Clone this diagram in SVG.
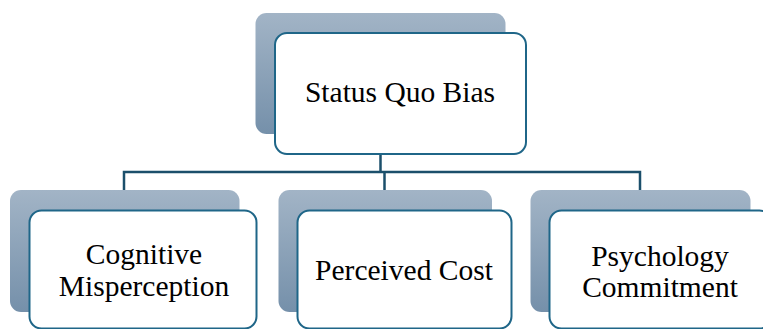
<svg xmlns="http://www.w3.org/2000/svg" width="763" height="329" viewBox="0 0 763 329">
  <defs>
    <linearGradient id="backFill" x1="0" y1="0" x2="0" y2="1">
      <stop offset="0" stop-color="#A2B4C6"/>
      <stop offset="1" stop-color="#7590AA"/>
    </linearGradient>
    <style>
      .back { fill: url(#backFill); stroke: none; }
      .front { fill: #FFFFFF; stroke: #1F6688; stroke-width: 2; }
      .label { font-family: "Liberation Serif", "Times New Roman", serif; font-size: 29.5px; fill: #000000; text-anchor: middle; }
      .link { fill: none; stroke: #1B4F6B; stroke-width: 2.5; }
    </style>
  </defs>
  <rect width="763" height="329" fill="#FFFFFF"/>

  <g id="connectors">
    <path class="link" d="M380.5 155 V172"/>
    <path class="link" d="M124 190 V172 H640 V190"/>
    <path class="link" d="M384.5 172 V190"/>
  </g>

  <g id="status-quo-bias">
    <rect class="back" x="255.5" y="13" width="250" height="121" rx="11"/>
    <rect class="front" x="275" y="33" width="251" height="121" rx="12"/>
    <text class="label" x="400" y="102">Status Quo Bias</text>
  </g>

  <g id="cognitive-misperception">
    <rect class="back" x="10" y="190" width="229.5" height="122" rx="11"/>
    <rect class="front" x="29.5" y="210.5" width="227" height="118" rx="12"/>
    <text class="label" x="144" y="264">Cognitive</text>
    <text class="label" x="144" y="296">Misperception</text>
  </g>

  <g id="perceived-cost">
    <rect class="back" x="278.5" y="190" width="213.5" height="122" rx="11"/>
    <rect class="front" x="297.5" y="210.5" width="214" height="118" rx="12"/>
    <text class="label" x="404" y="280">Perceived Cost</text>
  </g>

  <g id="psychology-commitment">
    <rect class="back" x="530.5" y="190" width="220" height="122" rx="11"/>
    <rect class="front" x="549.5" y="210.5" width="222" height="118" rx="12"/>
    <text class="label" x="660" y="266">Psychology</text>
    <text class="label" x="660" y="297">Commitment</text>
  </g>
</svg>
